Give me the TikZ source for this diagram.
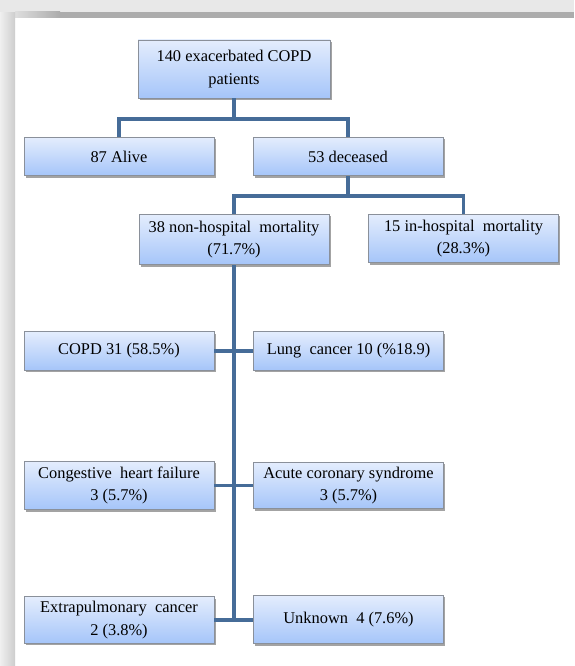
\documentclass[tikz,border=0pt]{standalone}
\usepackage{fontspec}
\setmainfont{Liberation Serif}
\usepackage{xcolor}
\usepackage{tikz}
\usetikzlibrary{shadows,calc}
\definecolor{flowTop}{RGB}{228,237,253}
\definecolor{flowBottom}{RGB}{165,197,249}
\definecolor{flowBorder}{RGB}{138,144,154}
\definecolor{flowLine}{RGB}{70,108,152}
\definecolor{pageShade}{RGB}{232,232,232}
\definecolor{pageEdge}{RGB}{172,172,172}
\tikzset{
  flowbox/.style={rectangle, draw=flowBorder, line width=0.6pt, top color=flowTop, bottom color=flowBottom,
    minimum width=142.5pt, minimum height=29pt, align=center, inner sep=2pt,
    font=\fontsize{12.3}{17}\selectfont,
    drop shadow={shadow xshift=1.4pt, shadow yshift=-1.4pt, opacity=0.6, fill=black!60}},
  tallbox/.style={flowbox, minimum height=36.5pt},
  flowlink/.style={draw=flowLine, line width=2.6pt},
}

\begin{document}
\begin{tikzpicture}[x=0.75pt,y=-0.75pt]
  \useasboundingbox (0,0) rectangle (574,666);
  % page frame with its shadow
  \fill[white] (0,0) rectangle (574,666);
  \fill[pageShade] (0,0) rectangle (574,13);
  \shade[left color=pageEdge!40, right color=pageEdge] (15,12) rectangle (60,18);
  \fill[pageEdge] (60,12) rectangle (574,18);
  \shade[left color=white!94!black, right color=pageEdge!60] (0,13) rectangle (15,666);

  \node[flowbox, minimum width=144pt, minimum height=43.5pt] (root) at (234,69) {140 exacerbated COPD\\patients};

  \node[flowbox] (alive) at (119,156.5) {87 Alive};
  \node[flowbox] (deceased) at (348,156.5) {53 deceased};

  \node[tallbox, minimum height=38pt] (nonhosp) at (234,239.5) {38 non-hospital\ \ mortality\\(71.7\%)};
  \node[tallbox] (inhosp) at (463.5,238.5) {15 in-hospital\ \ mortality\\(28.3\%)};

  \node[flowbox] (copd) at (119,351) {COPD 31 (58.5\%)};
  \node[flowbox] (lung) at (348.5,351) {Lung\ \ cancer 10 (\%18.9)};

  \node[tallbox] (chf) at (119,485.5) {Congestive\ \ heart failure\\3 (5.7\%)};
  \node[tallbox, minimum height=35pt] (acs) at (348.5,485.5) {Acute coronary syndrome\\3 (5.7\%)};

  \node[tallbox, minimum height=35pt] (extra) at (119,620) {Extrapulmonary\ \ cancer\\2 (3.8\%)};
  \node[tallbox] (unknown) at (348.5,619.5) {Unknown\ \ 4 (7.6\%)};

  % connectors
  \coordinate (split1) at (234,119);
  \coordinate (split2) at (348,196);
  \coordinate (spineEnd) at (234,621);

  \draw[flowlink] (root.south) -- (split1);
  \draw[flowlink] (split1) -| (alive.north);
  \draw[flowlink] (split1) -| (deceased.north);

  \draw[flowlink] (deceased.south) -- (split2);
  \draw[flowlink] (split2) -| (nonhosp.north);
  \draw[flowlink] (split2) -| (inhosp.north);

  \draw[flowlink] (nonhosp.south) -- (spineEnd);
  \draw[flowlink] (copd.east) -- (lung.west);
  \draw[flowlink] (chf.east) -- (acs.west);
  \draw[flowlink] (extra.east) -- (unknown.west |- extra.east);
\end{tikzpicture}
\end{document}
